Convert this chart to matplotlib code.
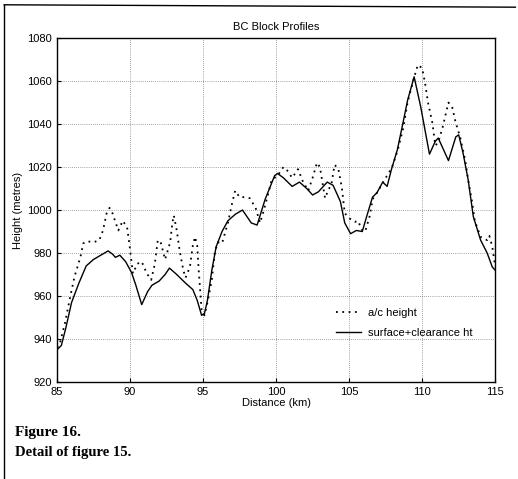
import matplotlib
matplotlib.use("Agg")
import matplotlib.pyplot as plt
from matplotlib.lines import Line2D

# surface + clearance height (solid)
surf_km = [85.0, 85.3, 85.6, 86.0, 86.5, 87.0, 87.5, 88.0, 88.5, 88.8, 89.0, 89.3,
           89.7, 90.1, 90.4, 90.8, 91.2, 91.5, 92.0, 92.4, 92.7, 93.2, 93.8, 94.3,
           94.6, 94.9, 95.1, 95.3, 95.6, 95.9, 96.3, 96.7, 97.2, 97.7, 98.0, 98.3,
           98.7, 99.25, 99.9, 100.1, 100.5, 101.1, 101.6, 102.1, 102.5, 102.9, 103.5,
           103.9, 104.4, 104.7, 105.1, 105.5, 105.9, 106.2, 106.6, 106.9, 107.3,
           107.6, 107.9, 108.3, 108.7, 109.0, 109.45, 109.9, 110.2, 110.5, 110.9,
           111.1, 111.4, 111.8, 112.3, 112.5, 112.8, 113.15, 113.5, 114.0, 114.45,
           114.8, 115.0]
surf_h = [935, 937, 945, 957, 966, 974, 977, 979, 981, 979.5, 978, 979,
          976, 971, 965, 956, 962, 965, 967, 970, 973, 970, 966, 963,
          958, 951, 952, 958, 972, 983, 990, 995, 998, 1000, 997, 994,
          993, 1005, 1016, 1017, 1015, 1011, 1013, 1010, 1007, 1008.5, 1013,
          1011.5, 1004, 994, 989, 990.5, 990, 997, 1006, 1008, 1013,
          1011, 1019, 1028, 1041, 1051, 1062, 1048, 1037, 1026, 1032,
          1033.5, 1029, 1023, 1034, 1035, 1026.5, 1014, 997, 986, 980,
          973.5, 972]

# a/c height (dotted)
ac_km = [85.0, 85.2, 85.55, 85.9, 86.2, 86.6, 86.8, 87.05, 87.5, 87.9, 88.15, 88.4,
         88.6, 88.8, 89.2, 89.5, 89.8, 89.95, 90.2, 90.5, 90.8, 91.15, 91.45, 91.7,
         91.9, 92.1, 92.4, 92.75, 92.9, 93.0, 93.2, 93.4, 93.65, 93.8, 94.1, 94.3,
         94.45, 94.6, 94.7, 94.8, 94.9, 95.1, 95.3, 95.6, 95.8, 96.0, 96.3, 96.7,
         97.0, 97.2, 97.5, 97.9, 98.2, 98.6, 98.9, 99.1, 99.4, 99.7, 100.1, 100.5,
         100.75, 101.1, 101.5, 101.85, 102.2, 102.5, 102.8, 103.0, 103.35, 103.5,
         103.8, 104.0, 104.25, 104.5, 104.7, 105.05, 105.4, 105.6, 105.9, 106.1,
         106.4, 106.6, 106.9, 107.25, 107.5, 107.7, 108.0, 108.35, 108.7, 109.0,
         109.4, 109.7, 110.0, 110.2, 110.4, 110.7, 110.9, 111.1, 111.4, 111.8,
         112.05, 112.3, 112.6, 112.95, 113.15, 113.4, 113.6, 114.0, 114.45, 114.6,
         114.8, 115.0]
ac_h = [936, 938, 947.5, 959.5, 969, 978, 984.5, 985.5, 985, 986, 990.5, 998.5,
        1001, 998.5, 990.5, 995, 992, 984.5, 970.5, 975, 976, 970.5, 967.5, 975,
        986, 985, 977, 985, 994, 997.5, 990.5, 981, 972, 968.5, 973.5, 983.5,
        987.5, 983.5, 972, 963, 953.5, 951, 957, 967.5, 980, 985, 984.5, 994,
        1003.5, 1009, 1006, 1006, 1005.5, 1001, 994, 998.5, 1006, 1014, 1016, 1020,
        1018.5, 1015, 1019, 1013, 1009, 1015, 1022, 1020, 1005.5, 1008,
        1012.5, 1021, 1019.5, 1010.5, 998.5, 996, 994.5, 995, 990.5, 990,
        997, 1005, 1008, 1012, 1015, 1017, 1021, 1028.5, 1038, 1050,
        1060.5, 1067.5, 1066, 1059, 1050, 1040.5, 1030, 1031.5, 1038.5, 1050,
        1048, 1040.5, 1034, 1023, 1014, 1004.5, 995, 987.5, 986, 988,
        983, 973.5]

x_ticks = [85, 90, 95, 100, 105, 110, 115]
y_ticks = [920, 940, 960, 980, 1000, 1020, 1040, 1060, 1080]

plt.rcParams['font.family'] = ['Liberation Sans', 'DejaVu Sans']

fig = plt.figure(figsize=(5.18, 4.79), dpi=100)
ax = fig.add_axes([0.110, 0.2025, 0.846, 0.718])

ax.plot(ac_km, ac_h, color='black', linestyle=(0, (1, 2.5)), linewidth=1.3,
        label='a/c height')
ax.plot(surf_km, surf_h, color='black', linestyle='-', linewidth=1.0,
        label='surface+clearance ht')

ax.set_xlim(85, 115)
ax.set_ylim(920, 1080)
ax.set_xticks(x_ticks)
ax.set_yticks(y_ticks)
ax.tick_params(direction='in', length=3, labelsize=8, width=0.8)
ax.grid(True, color='black', linestyle=(0, (1, 2)), linewidth=0.5, alpha=0.7)
for s in ax.spines.values():
    s.set_linewidth(1.0)

ax.set_title('BC Block Profiles', fontsize=8, pad=6)
ax.set_xlabel('Distance (km)', fontsize=8, labelpad=1)
ax.set_ylabel('Height (metres)', fontsize=8, labelpad=3)

ax.legend(loc='center left', bbox_to_anchor=(0.615, 0.172), frameon=False,
          fontsize=8, handlelength=2.2, handletextpad=0.6, labelspacing=0.95)

fig.text(0.029, 0.098, 'Figure 16.', family=['Liberation Serif', 'DejaVu Serif'],
         fontsize=11, fontweight='bold', va='center')
fig.text(0.029, 0.056, 'Detail of figure 15.', family=['Liberation Serif', 'DejaVu Serif'],
         fontsize=10.5, fontweight='bold', va='center')

# page border from the scanned figure
fig.add_artist(Line2D([0.008, 0.995], [0.99, 0.985], color='black', linewidth=1.0,
                      transform=fig.transFigure))
fig.add_artist(Line2D([0.008, 0.008], [0.99, 0.0], color='black', linewidth=1.0,
                      transform=fig.transFigure))

fig.savefig('out.png', dpi=100)
